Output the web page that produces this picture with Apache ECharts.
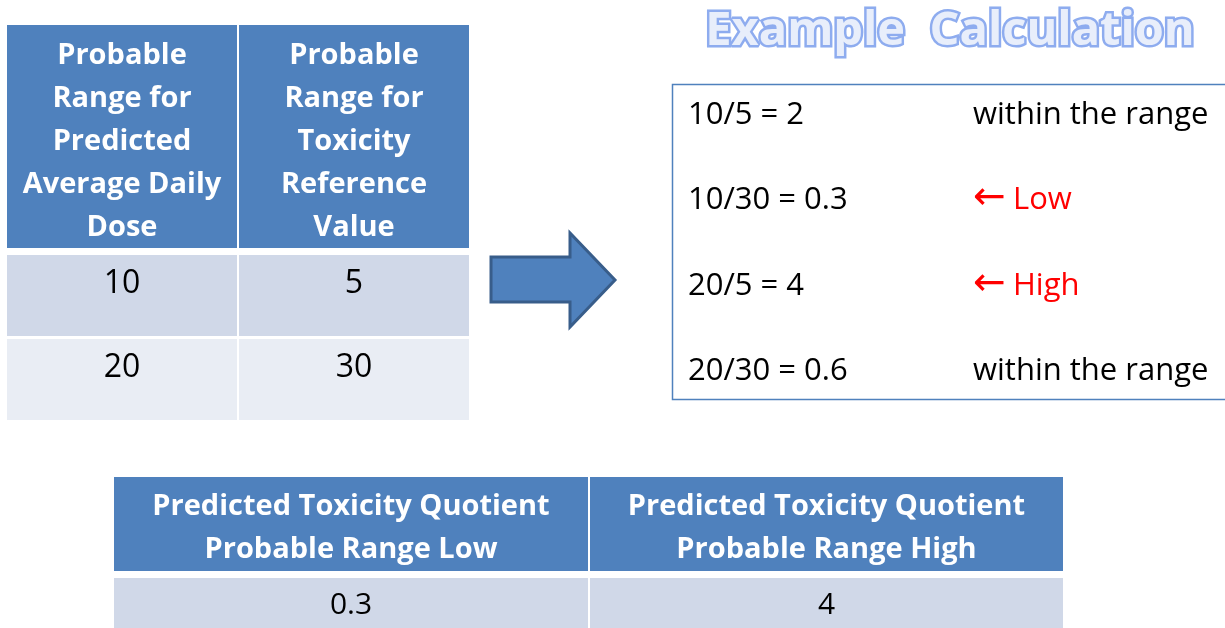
<!DOCTYPE html>
<html>
<head>
<meta charset="utf-8">
<script src="https://cdn.jsdelivr.net/npm/echarts@6/dist/echarts.min.js"></script>
<style>
  html, body { margin: 0; padding: 0; background: #fff; }
  #main { width: 1225px; height: 628px; }
</style>
</head>
<body>
<div id="main"></div>
<script>
// table data
const inputHeaders = [
  'Probable\nRange for\nPredicted\nAverage Daily\nDose',
  'Probable\nRange for\nToxicity\nReference\nValue'
];
const doseRange = [10, 20];
const refValueRange = [5, 30];
const quotients = [2, 0.3, 4, 0.6];
const calcNotes = ['within the range', 'Low', 'High', 'within the range'];
const noteArrow = [false, true, true, false];
const resultHeaders = [
  'Predicted Toxicity Quotient\nProbable Range Low',
  'Predicted Toxicity Quotient\nProbable Range High'
];
const quotientRange = [0.3, 4];

const SANS = '"Open Sans", "Noto Sans", "DejaVu Sans", sans-serif';
const BLUE = '#4F81BD';
const ROWS = ['#D0D8E8', '#E9EDF4'];

function txt(x, y, text, size, bold, color, align) {
  return {
    type: 'text', x: x, y: y, silent: true,
    style: {
      text: String(text),
      font: (bold ? 'bold ' : '') + size + 'px ' + SANS,
      fill: color,
      align: align || 'center',
      verticalAlign: 'middle',
      lineHeight: 43
    }
  };
}
function box(x, y, w, h, color) {
  return { type: 'rect', silent: true, shape: { x: x, y: y, width: w, height: h }, style: { fill: color } };
}

const els = [];

// left table
const colX = [7, 239], colW = 230;
const rowY = [255, 339], rowH = 81;
colX.forEach((x, c) => {
  els.push(box(x, 25, colW, 223, BLUE));
  els.push(txt(x + colW / 2, 142, inputHeaders[c], 29, true, '#fff'));
  const vals = c === 0 ? doseRange : refValueRange;
  rowY.forEach((y, r) => {
    els.push(box(x, y, colW, rowH, ROWS[r]));
    els.push(txt(x + colW / 2, y + 29, vals[r], 32, false, '#000'));
  });
});

// arrow
els.push({
  type: 'polygon', silent: true,
  shape: { points: [[491, 257], [570, 257], [570, 233], [615, 280], [570, 327], [570, 302], [491, 302]] },
  style: { fill: BLUE, stroke: '#385D8A', lineWidth: 3, lineJoin: 'miter' }
});

// title
els.push({
  type: 'text', x: 950, y: 32, silent: true,
  style: { text: 'Example  Calculation', font: 'bold 47px ' + SANS, fill: 'none',
    stroke: '#8EACEF', lineWidth: 5, lineJoin: 'round', align: 'center', verticalAlign: 'middle' }
});
els.push({
  type: 'text', x: 950, y: 32, silent: true,
  style: { text: 'Example  Calculation', font: 'bold 47px ' + SANS, fill: '#E8EEFB',
    align: 'center', verticalAlign: 'middle' }
});

// calculation box
els.push({
  type: 'rect', silent: true,
  shape: { x: 672.5, y: 84.5, width: 620, height: 315 },
  style: { fill: 'none', stroke: BLUE, lineWidth: 1.5 }
});
const calcY = [115, 200, 286, 371];
let k = 0;
doseRange.forEach(d => {
  refValueRange.forEach(r => {
    els.push(txt(688, calcY[k], d + '/' + r + ' = ' + quotients[k], 31, false, '#000', 'left'));
    if (noteArrow[k]) {
      els.push(txt(973, calcY[k] - 2, '\u2190', 39, false, '#FF0000', 'left'));
      els.push(txt(1013, calcY[k], calcNotes[k], 31, false, '#FF0000', 'left'));
    } else {
      els.push(txt(973, calcY[k], calcNotes[k], 31, false, '#000', 'left'));
    }
    k++;
  });
});

// result table
const resX = [114, 590], resW = [474, 473];
resX.forEach((x, c) => {
  els.push(box(x, 477, resW[c], 94, BLUE));
  els.push(txt(x + resW[c] / 2, 528, resultHeaders[c], 29, true, '#fff'));
  els.push(box(x, 578, resW[c], 50, ROWS[0]));
  els.push(txt(x + resW[c] / 2, 605, quotientRange[c], 30, false, '#000'));
});

const chart = echarts.init(document.getElementById('main'));
chart.setOption({
  backgroundColor: '#fff',
  animation: false,
  graphic: { elements: els }
});
</script>
</body>
</html>
